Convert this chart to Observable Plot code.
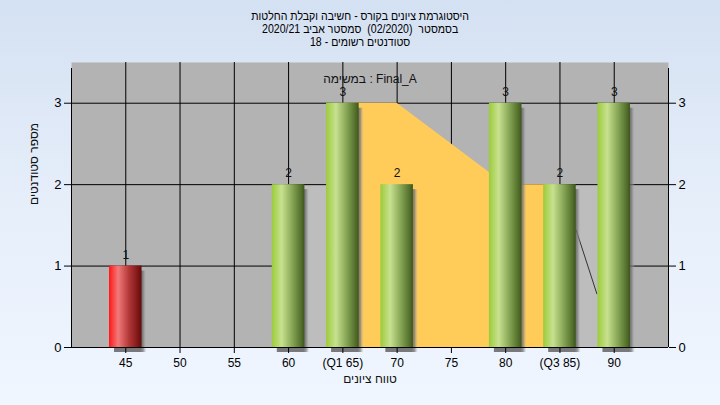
<!DOCTYPE html>
<html>
<head>
<meta charset="utf-8">
<script src="https://cdn.jsdelivr.net/npm/d3@7"></script>
<script src="https://cdn.jsdelivr.net/npm/@observablehq/plot@0.6"></script>
<style>
  html, body { margin: 0; padding: 0; }
  body { width: 720px; height: 405px; overflow: hidden;
         background: linear-gradient(to bottom, #d4e1f2 0%, #e6eefa 50%, #eff6ff 100%);
         font-family: "Liberation Sans", Arial, sans-serif; }
  #wrap { position: relative; width: 720px; height: 405px; }
  #title { position: absolute; top: 10px; left: 0; width: 720px; text-align: center;
           font-size: 12px; line-height: 13px; color: #000; direction: rtl; white-space: pre;
           transform: scaleX(0.88); transform-origin: 361px 0; }
  #chart { position: absolute; top: 0; left: 0; }
</style>
</head>
<body>
<div id="wrap">
  <div id="chart"></div>
  <div id="title"></div>
</div>
<script>
// ---- data ----
const titleLines = [
  "היסטוגרמת ציונים בקורס - חשיבה וקבלת החלטות",
  "בסמסטר  (02/2020)  סמסטר אביב 2020/21",
  "סטודנטים רשומים - 18"
];
const subtitle = "במשימה : Final_A";
const xLabel = "טווח ציונים";
const yLabel = "מספר סטודנטים";

const xTicks = [45, 50, 55, 60, 65, 70, 75, 80, 85, 90];
const xTickLabels = ["45", "50", "55", "60", "(Q1 65)", "70", "75", "80", "(Q3 85)", "90"];
const yTicks = [0, 1, 2, 3];

const grades = [45, 60, 65, 70, 80, 85, 90];
const counts = [1, 2, 3, 2, 3, 2, 3];
const failing = [true, false, false, false, false, false, false];

// interquartile shaded area
const iqrX = [65, 70, 80, 85];
const iqrY = [3, 3, 2, 2];
// light band behind bars
const bandX = [60, 90];
const bandY = [1.98, 1.98];
// thin curve segment
const curveX = [86.5, 88.4];
const curveY = [1.44, 0.66];

// ---- build ----
const titleEl = document.getElementById("title");
for (const t of titleLines) {
  const div = document.createElement("div");
  div.textContent = t;
  titleEl.appendChild(div);
}

const bars = grades.map((g, i) => ({g, c: counts[i], fail: failing[i]}));
const iqr = iqrX.map((x, i) => ({x, y: iqrY[i]}));
const band = bandX.map((x, i) => ({x, y: bandY[i]}));
const curve = curveX.map((x, i) => ({x, y: curveY[i]}));
const halfW = 1.5;

function defs() {
  const ns = "http://www.w3.org/2000/svg";
  const d = document.createElementNS(ns, "defs");
  const grads = {
    gGreen: [[0, "#9ccb3a"], [0.3, "#c7e190"], [0.62, "#88a756"], [0.92, "#4f6b27"], [1, "#3d5420"]],
    gRed: [[0, "#ff1616"], [0.28, "#f27a7a"], [0.62, "#b23636"], [0.92, "#781313"], [1, "#5e0c0c"]],
    gShadow: [[0, "#505050"], [0.82, "#505050"], [0.9, "#7a7a7a"], [1, "#b3b3b3"]]
  };
  for (const [id, stops] of Object.entries(grads)) {
    const lg = document.createElementNS(ns, "linearGradient");
    lg.setAttribute("id", id);
    lg.setAttribute("x1", "0"); lg.setAttribute("x2", "1");
    lg.setAttribute("y1", "0"); lg.setAttribute("y2", "0");
    for (const [o, c] of stops) {
      const s = document.createElementNS(ns, "stop");
      s.setAttribute("offset", o);
      s.setAttribute("stop-color", c);
      if (id === "gShadow") s.setAttribute("stop-opacity", o === 1 ? 0 : 0.75);
      lg.appendChild(s);
    }
    d.appendChild(lg);
  }
  return d;
}

const chart = Plot.plot({
  width: 720,
  height: 405,
  marginLeft: 71,
  marginRight: 52,
  marginTop: 62,
  marginBottom: 58,
  style: {background: "transparent", fontFamily: "'Liberation Sans', Arial, sans-serif", color: "#000"},
  x: {domain: [40, 95], axis: null},
  y: {domain: [0, 3.5], axis: null},
  marks: [
    defs,
    Plot.frame({fill: "#b3b3b3", stroke: null}),
    Plot.gridX(xTicks, {stroke: "#000", strokeOpacity: 1}),
    Plot.gridY([1, 2, 3], {stroke: "#000", strokeOpacity: 1}),
    Plot.areaY(band, {x: "x", y: "y", fill: "#bdbdbd", curve: "linear"}),
    Plot.areaY(iqr, {x: "x", y: "y", fill: "#ffcc59", curve: "linear"}),
    Plot.line(curve, {x: "x", y: "y", stroke: "#333", strokeWidth: 1}),
    Plot.rectY(bars, {x1: d => d.g - halfW, x2: d => d.g + halfW, y: "c", dx: 5, dy: 5, fill: "url(#gShadow)"}),
    Plot.rectY(bars.filter(d => d.fail), {x1: d => d.g - halfW, x2: d => d.g + halfW, y: "c", fill: "url(#gRed)"}),
    Plot.rectY(bars.filter(d => !d.fail), {x1: d => d.g - halfW, x2: d => d.g + halfW, y: "c", fill: "url(#gGreen)"}),
    Plot.text(bars, {x: "g", y: "c", text: d => String(d.c), dy: -11, fontSize: 12, fill: "#111"}),
    Plot.ruleY([0], {stroke: "#000"}),
    Plot.ruleX([40, 95], {y1: 0, y2: 3.5, stroke: "#000", insetBottom: -6}),
    Plot.axisY(yTicks, {anchor: "left", tickSize: 7, tickPadding: 3, fontSize: 13, label: null, stroke: "#000", tickFormat: d3.format("d")}),
    Plot.axisY(yTicks, {anchor: "right", tickSize: 7, tickPadding: 3, fontSize: 13, label: null, stroke: "#000", tickFormat: d3.format("d")}),
    Plot.axisX(xTicks, {anchor: "bottom", tickSize: 6, tickPadding: 5, fontSize: 12, label: null, stroke: "#000",
      tickFormat: d => xTickLabels[xTicks.indexOf(d)]}),
    Plot.text([subtitle], {frameAnchor: "top", dy: 12, fontSize: 12, fill: "#111"}),
    Plot.text([xLabel], {frameAnchor: "bottom", dy: 35, fontSize: 12, fill: "#111"}),
    Plot.text([yLabel], {frameAnchor: "left", dx: -37, rotate: -90, fontSize: 12, fill: "#111"})
  ]
});
document.getElementById("chart").appendChild(chart);
</script>
</body>
</html>
